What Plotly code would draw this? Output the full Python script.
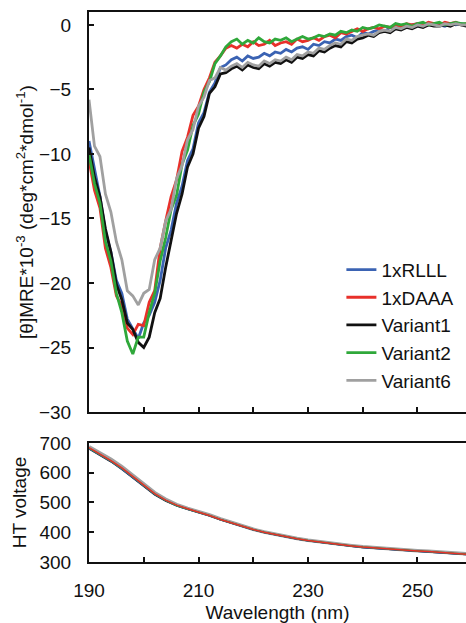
import plotly.graph_objects as go

# ---------------- data ----------------
wavelength = list(range(190, 260))  # 190..259 nm, 1 nm step

rlll = [-9.0, -11.3, -13.3, -16.0, -17.6, -19.8, -20.8, -22.8, -23.6, -24.3,
        -23.1, -22.5, -21.5, -19.8, -17.3, -15.9, -13.8, -12.5, -10.5, -9.6,
        -7.6, -6.8, -5.2, -4.5, -3.3, -3.1,
        -2.7, -2.5, -2.8, -2.4, -2.6, -2.5, -2.2, -2.4, -2.1, -2.2,
        -1.9, -2.1, -1.8, -1.7, -1.9, -1.5, -1.6, -1.3, -1.4, -1.1,
        -1.2, -0.9, -0.8, -1.0, -0.6, -0.7, -0.5, -0.4, -0.5, -0.2,
        -0.3, -0.1, -0.2, 0.0, 0.1, -0.1, 0.0, 0.1, 0.0, -0.1,
        0.1, 0.0, 0.1, 0.0]

daaa = [-10.5, -12.8, -14.2, -17.3, -18.8, -21.0, -21.8, -23.5, -24.0, -23.2,
        -23.3, -21.5, -20.6, -17.3, -15.2, -13.3, -12.0, -9.8, -8.7, -7.0,
        -6.3, -5.0, -4.1, -2.9, -2.4, -1.8,
        -1.6, -1.8, -1.5, -1.7, -1.3, -1.6, -1.5, -1.2, -1.6, -1.4,
        -1.3, -1.5, -1.1, -1.3, -1.2, -1.0, -1.2, -0.9, -0.8, -1.0,
        -0.6, -0.7, -0.5, -0.3, -0.5, -0.3, -0.2, -0.3, -0.1, -0.2,
        0.0, -0.1, 0.1, 0.0, 0.1, 0.0, 0.2, 0.1, 0.0, 0.2,
        0.1, 0.2, 0.0, 0.1]

variant1 = [-9.5, -11.8, -13.3, -15.8, -17.6, -20.1, -21.3, -23.1, -23.6, -24.6,
            -25.0, -24.2, -22.3, -21.2, -18.8, -16.8, -14.6, -13.1, -11.0, -10.0,
            -8.0, -7.1, -5.3, -4.8, -3.8, -3.7,
            -3.4, -3.2, -3.5, -3.1, -3.3, -3.4, -3.0, -3.2, -2.9, -3.0,
            -2.7, -2.9, -2.5, -2.6, -2.3, -2.4, -2.0, -2.1, -1.8, -1.6,
            -1.7, -1.3, -1.4, -1.1, -1.0, -0.8, -0.9, -0.6, -0.5, -0.6,
            -0.3, -0.4, -0.2, -0.3, -0.1, -0.2, 0.0, -0.1, -0.1, 0.0,
            -0.1, 0.1, 0.0, -0.1]

variant2 = [-10.0, -12.3, -13.8, -16.8, -18.3, -20.8, -22.3, -24.5, -25.5, -24.2,
            -24.2, -22.3, -20.8, -18.3, -16.5, -14.3, -13.2, -10.8, -9.7, -7.8,
            -6.9, -5.2, -4.4, -3.0, -2.4, -1.7,
            -1.3, -1.1, -1.5, -1.2, -1.4, -1.0, -1.3, -1.4, -1.1, -1.2,
            -1.0, -1.3, -1.1, -0.9, -1.1, -1.0, -0.8, -0.9, -0.7, -0.8,
            -0.5, -0.6, -0.4, -0.5, -0.2, -0.3, -0.2, 0.0, -0.1, -0.2,
            0.1, 0.0, 0.1, -0.1, 0.1, 0.2, 0.0, 0.1, 0.2, 0.0,
            0.1, 0.2, 0.1, 0.1]

variant6 = [-5.8, -9.4, -10.2, -13.1, -14.5, -16.8, -18.2, -20.6, -21.0, -21.7,
            -20.8, -20.5, -18.2, -17.3, -15.2, -14.3, -11.9, -10.9, -8.9, -8.1,
            -6.3, -5.6, -4.3, -4.1, -3.3, -3.5,
            -3.2, -3.0, -3.3, -2.9, -3.1, -3.2, -2.8, -3.0, -2.7, -2.8,
            -2.5, -2.7, -2.3, -2.4, -2.1, -2.2, -1.8, -1.9, -1.6, -1.4,
            -1.5, -1.1, -1.2, -0.9, -0.8, -0.7, -0.8, -0.5, -0.4, -0.5,
            -0.2, -0.3, -0.1, -0.2, 0.0, -0.1, 0.1, 0.0, -0.1, 0.1,
            0.0, 0.1, 0.0, 0.0]

ht_wavelength = list(range(190, 262, 2))  # 190..260 nm, 2 nm step

ht_rlll = [681, 660, 638, 612, 583, 553, 527, 506, 489, 477, 467, 455, 442, 430, 418, 408, 399, 391,
           384, 377, 371, 366, 361, 357, 353, 349, 346, 343, 341, 339, 336, 334, 331, 329, 326, 324]
ht_daaa = [684, 663, 641, 616, 588, 557, 530, 508, 491, 479, 468, 456, 443, 431, 419, 409, 400, 392,
           385, 378, 372, 367, 362, 358, 354, 350, 347, 344, 342, 340, 337, 335, 332, 330, 327, 325]
ht_variant1 = [680, 659, 637, 611, 582, 552, 526, 505, 489, 477, 467, 455, 442, 430, 418, 408, 399, 391,
               384, 377, 371, 366, 361, 357, 353, 349, 346, 343, 341, 339, 336, 334, 331, 329, 326, 324]
ht_variant2 = [683, 662, 640, 615, 587, 556, 529, 507, 490, 478, 468, 456, 443, 431, 419, 409, 400, 392,
               385, 378, 372, 367, 362, 358, 354, 350, 347, 344, 342, 340, 337, 335, 332, 330, 327, 325]
ht_variant6 = [687, 666, 645, 620, 592, 561, 533, 511, 493, 480, 470, 458, 445, 433, 421, 410, 401, 393,
               386, 379, 373, 368, 363, 359, 355, 351, 348, 345, 343, 341, 338, 336, 333, 331, 328, 326]

series_names = ["1xRLLL", "1xDAAA", "Variant1", "Variant2", "Variant6"]
cd_values = [rlll, daaa, variant1, variant2, variant6]
ht_values = [ht_rlll, ht_daaa, ht_variant1, ht_variant2, ht_variant6]
colors = ["#3b63b3", "#e8302a", "#111111", "#2fa83a", "#a0a0a0"]

cd_ticks = [-30, -25, -20, -15, -10, -5, 0]
ht_ticks = [300, 400, 500, 600, 700]

# ---------------- figure ----------------
fig = go.Figure()

for name, vals, col in zip(series_names, cd_values, colors):
    fig.add_trace(go.Scatter(x=wavelength, y=vals, mode="lines", name=name,
                             line=dict(color=col, width=2.8),
                             xaxis="x", yaxis="y"))

ht_order = [4, 2, 0, 3, 1]
for i in ht_order:
    fig.add_trace(go.Scatter(x=ht_wavelength, y=ht_values[i], mode="lines",
                             name=series_names[i], showlegend=False,
                             line=dict(color=colors[i], width=3.5 if i == 4 else 1.5),
                             xaxis="x2", yaxis="y2"))

font_family = "Liberation Sans, Arial, sans-serif"
axis_common = dict(showline=True, linecolor="#111111", linewidth=2,
                   ticks="inside", ticklen=5, tickwidth=1.5, tickcolor="#111111",
                   showgrid=False, zeroline=False, automargin=False,
                   tickfont=dict(family=font_family, size=19, color="#111111"))
x_minor = dict(ticks="inside", ticklen=5, tickwidth=1.5, tickcolor="#111111",
               tick0=190, dtick=10, showgrid=False)

x_range = [190, 258.86]

fig.update_layout(
    width=466, height=623,
    margin=dict(l=89, r=0, t=12, b=61),
    paper_bgcolor="white", plot_bgcolor="white",
    font=dict(family=font_family, size=19, color="#111111"),
    showlegend=True,
    legend=dict(x=0.6695, y=0.566, xanchor="left", yanchor="top",
                bgcolor="rgba(0,0,0,0)", borderwidth=0,
                font=dict(family=font_family, size=19, color="#111111"),
                itemwidth=30, tracegroupgap=0),
    xaxis=dict(domain=[0, 1], anchor="y", range=x_range,
               tickmode="linear", tick0=190, dtick=20, minor=x_minor,
               showticklabels=False, mirror=True, **axis_common),
    yaxis=dict(domain=[0.2727, 1], anchor="x", range=[-30, 1],
               tickvals=cd_ticks, ticklabelstandoff=12,
               title=dict(text="[θ]MRE*10<sup>-3</sup> (deg*cm<sup>2</sup>*dmol<sup>-1</sup>)",
                          font=dict(family=font_family, size=19), standoff=0),
               **axis_common),
    xaxis2=dict(domain=[0, 1], anchor="y2", range=x_range, matches="x",
                tickmode="linear", tick0=190, dtick=20, minor=x_minor,
                ticklabelstandoff=10, mirror=True,
                title=dict(text="Wavelength (nm)", font=dict(family=font_family, size=19),
                           standoff=6),
                **axis_common),
    yaxis2=dict(domain=[0, 0.2164], anchor="x2", range=[300, 700],
                tickvals=ht_ticks, ticklabelstandoff=12,
                title=dict(text="HT voltage", font=dict(family=font_family, size=19),
                           standoff=8),
                **axis_common),
)

fig.write_html("out.html",
               config={"displayModeBar": False},
               post_script="document.body.style.margin='0';"
                           "document.body.style.overflow='hidden';")
